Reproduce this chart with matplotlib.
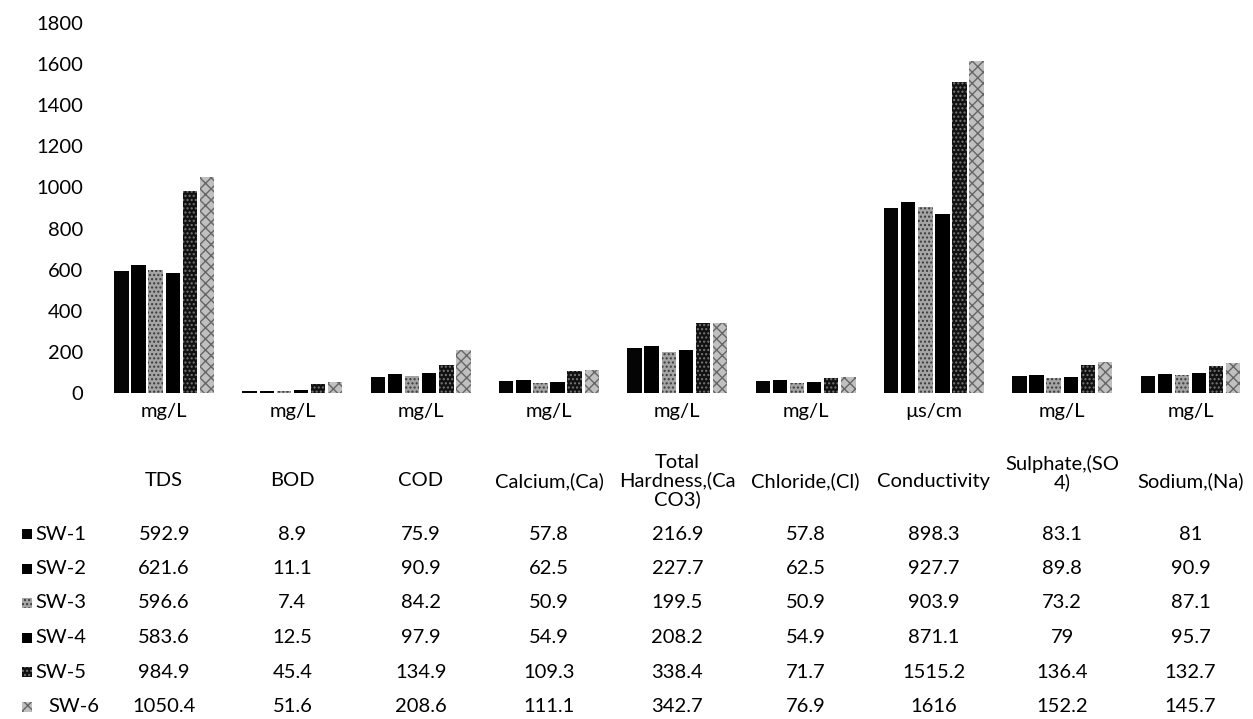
import matplotlib
matplotlib.use("Agg")
import matplotlib.pyplot as plt
import matplotlib.transforms as mtransforms
from matplotlib.patches import Rectangle
import numpy as np

plt.rcParams['font.family'] = ['Lato', 'DejaVu Sans']

units = ["mg/L", "mg/L", "mg/L", "mg/L", "mg/L", "mg/L", "µs/cm", "mg/L", "mg/L"]
parameters = ["TDS", "BOD", "COD", "Calcium,(Ca)", "Total\nHardness,(Ca\nCO3)",
              "Chloride,(Cl)", "Conductivity", "Sulphate,(SO\n4)", "Sodium,(Na)"]
series_names = ["SW-1", "SW-2", "SW-3", "SW-4", "SW-5", "SW-6"]
sw1 = [592.9, 8.9, 75.9, 57.8, 216.9, 57.8, 898.3, 83.1, 81]
sw2 = [621.6, 11.1, 90.9, 62.5, 227.7, 62.5, 927.7, 89.8, 90.9]
sw3 = [596.6, 7.4, 84.2, 50.9, 199.5, 50.9, 903.9, 73.2, 87.1]
sw4 = [583.6, 12.5, 97.9, 54.9, 208.2, 54.9, 871.1, 79, 95.7]
sw5 = [984.9, 45.4, 134.9, 109.3, 338.4, 71.7, 1515.2, 136.4, 132.7]
sw6 = [1050.4, 51.6, 208.6, 111.1, 342.7, 76.9, 1616, 152.2, 145.7]
series = [sw1, sw2, sw3, sw4, sw5, sw6]

styles = [
    dict(facecolor="#050505", edgecolor="#050505", hatch=None),
    dict(facecolor="#000000", edgecolor="#000000", hatch=None),
    dict(facecolor="#a4a4a4", edgecolor="#3a3a3a", hatch="...."),
    dict(facecolor="#000000", edgecolor="#000000", hatch=None),
    dict(facecolor="#111111", edgecolor="#777777", hatch="...."),
    dict(facecolor="#c0c0c0", edgecolor="#666666", hatch="xxx"),
]

W, H = 1253, 719
fig = plt.figure(figsize=(W / 100, H / 100), dpi=100)
ax = fig.add_axes([100 / W, (H - 393) / H, 1154.6 / W, 370 / H])

n = len(series)
slot = 1 / 7.5
x = np.arange(len(units))
for i, (vals, st) in enumerate(zip(series, styles)):
    off = (i - (n - 1) / 2) * slot
    ax.bar(x + off, vals, width=slot * 0.84, facecolor=st["facecolor"],
           edgecolor=st["edgecolor"], hatch=st["hatch"], linewidth=0)

ax.set_xlim(-0.5, len(units) - 0.5)
ax.set_ylim(0, 1800)
ax.set_yticks(np.arange(0, 1801, 200))
ax.set_xticks(x)
ax.set_xticklabels(units)
ax.tick_params(axis="y", length=0, pad=12, labelsize=14.5, colors="#000000")
ax.tick_params(axis="x", length=0, pad=7, labelsize=14.5, colors="#000000")
for s in ax.spines.values():
    s.set_visible(False)

trans = mtransforms.blended_transform_factory(ax.transData, fig.transFigure)

def fy(py):
    return 1 - py / H

# header row
for xi, p in zip(x, parameters):
    nlines = p.count("\n") + 1
    py = 473 if nlines == 2 else 481
    ax.text(xi, fy(py), p, transform=trans, ha="center", va="center",
            fontsize=14.5, color="#000000", linespacing=1.05, clip_on=False)

row_y = [534, 568.5, 603, 637.5, 672, 706.5]
for i, (name, vals, st) in enumerate(zip(series_names, series, styles)):
    py = row_y[i]
    for xi, v in zip(x, vals):
        ax.text(xi, fy(py), f"{v:g}", transform=trans, ha="center", va="center",
                fontsize=14.5, color="#000000", clip_on=False)
    # legend key
    fig.patches.append(Rectangle((22 / W, fy(py + 5)), 10 / W, 10 / H,
                                 transform=fig.transFigure,
                                 facecolor=st["facecolor"], edgecolor=st["edgecolor"],
                                 hatch=st["hatch"], linewidth=0))
    label_x = 48 if name == "SW-6" else 35
    fig.text(label_x / W, fy(py), name, ha="left", va="center",
             fontsize=14.5, color="#000000")

fig.savefig("out.png", dpi=100, facecolor="white")
